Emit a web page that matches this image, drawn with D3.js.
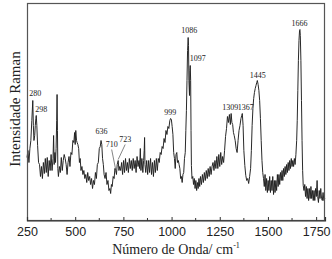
<!DOCTYPE html>
<html>
<head>
<meta charset="utf-8">
<script src="https://cdn.jsdelivr.net/npm/d3@7"></script>
<style>
  body { margin: 0; background: #fff; }
</style>
</head>
<body>
<div id="chart"></div>
<script>
// raman spectrum, values (arbitrary intensity units)
const wavenumbers = [250,255,260,265,270,275,280,283,286,290,293,296,298,301,305,310,315,320,325,330,
  335,340,345,350,355,360,365,370,375,380,385,388,391,395,398,401,404,406,408,410,413,418,423,
  428,433,438,443,448,453,458,463,468,473,478,483,488,493,497,500,503,507,510,514,518,522,526,530,535,540,545,550,
  555,560,565,570,575,580,585,590,595,600,605,610,615,620,625,630,634,638,642,646,650,
  655,660,665,670,675,680,684,688,692,697,702,706,710,714,718,723,727,731,
  736,741,746,751,756,761,766,771,776,781,786,791,796,801,806,811,816,821,826,831,834,838,841,846,851,855,858,860,862,866,
  871,876,881,886,891,896,901,906,911,916,921,926,931,936,941,
  946,951,956,961,966,971,976,981,986,991,995,999,1003,1007,1011,1015,1019,1023,1027,1031,1035,1039,1043,1047,1051,1055,1059,
  1063,1067,1071,1074,1077,1080,1083,1086,1088,1090,1093,1095,1097,1099,1101,1103,1106,
  1110,1114,1118,1122,1126,1130,1134,1138,1142,1146,1150,1155,1160,1165,1170,1175,1180,1185,1190,1195,1200,1205,1210,
  1215,1220,1225,1230,1235,1240,1245,1250,1255,1260,1265,1270,1275,1280,1285,1290,1295,1300,1305,1309,1313,1317,1321,
  1325,1330,1335,1340,1345,1350,1355,1360,1364,1367,1371,1375,1380,1385,1390,1395,1400,1405,1410,1414,1418,1422,1426,
  1430,1434,1438,1442,1445,1449,1453,1457,1461,1465,1469,1473,1477,
  1481,1485,1489,1493,1497,1501,1505,1509,1513,1517,1521,1525,1529,1533,1537,1541,1545,1549,1553,1557,1561,1565,1569,
  1573,1577,1581,1585,1589,1593,1597,1601,1605,1609,1613,1617,1621,1625,1629,1633,1637,1641,1645,1649,
  1652,1655,1658,1661,1664,1666,1668,1671,1674,1677,1680,1683,1687,
  1691,1695,1699,1703,1707,1711,1715,1719,1723,1727,1731,1735,1739,1743,1747,1751,1755,1758,1762,1766,1770,1774,1778,
  1782,1786,1790,1795];

const intensity = [63,70,58,72,80,100,120,95,80,85,95,102,105,95,75,58,56,44,54,42,
  58,47,62,48,63,44,60,50,66,50,62,85,56,68,58,72,100,126,90,52,44,54,48,
  63,50,60,66,62,56,46,58,64,54,68,66,80,78,88,76,90,80,78,76,72,58,62,50,54,46,50,42,
  46,38,48,40,44,36,42,32,40,36,48,42,56,58,72,74,80,76,62,56,46,
  42,48,36,40,30,32,27,36,34,44,42,52,50,46,56,60,50,54,
  50,58,46,60,48,62,50,58,48,62,52,60,50,62,52,60,48,64,54,60,52,72,50,62,48,60,70,83,56,48,
  60,46,60,48,62,46,58,44,60,48,62,50,62,58,68,
  66,74,72,82,78,90,86,94,92,100,102,101,94,86,68,62,52,66,68,58,60,56,52,42,44,38,46,
  48,62,68,90,110,140,170,183,175,140,125,150,155,140,90,55,42,
  44,36,42,32,40,30,38,32,42,34,44,36,46,38,48,40,50,42,52,44,54,46,54,
  58,50,60,52,64,52,66,54,68,56,64,58,70,84,92,104,98,106,96,107,98,96,88,
  85,80,72,68,80,90,95,102,105,107,95,70,55,45,40,42,37,44,52,70,95,112,122,
  128,132,135,138,140,136,130,120,102,80,60,48,42,
  34,46,30,42,28,40,30,44,28,40,30,44,26,40,28,40,30,46,34,46,36,48,40,
  50,40,52,44,54,46,56,48,58,50,60,52,62,54,60,54,62,56,66,80,
  100,130,160,180,190,191,185,160,120,80,50,35,30,
  36,24,34,22,32,20,32,22,34,22,30,20,30,20,32,24,40,24,18,30,22,32,22,
  20,28,20,22];

const xTicks = [250, 500, 750, 1000, 1250, 1500, 1750];
const xMinorTicks = [375, 625, 875, 1125, 1375, 1625];
const peakLabels = ["280", "298", "636", "710", "723", "999", "1086", "1097", "1309", "1367", "1445", "1666"];

var width = 332, height = 259;
var margin = {left: 27, right: 7, top: 3.5, bottom: 38.5};

var svg = d3.select("#chart")
    .append("svg")
    .attr("width", width)
    .attr("height", height);

var x = d3.scaleLinear().domain([250, 1796]).range([margin.left, width - margin.right]);
var y = d3.scaleLinear().domain([0, 217]).range([height - margin.bottom, margin.top]);

var points = wavenumbers.map((w, i) => ({w: w, v: intensity[i]}));

// spectrum
var line = d3.line()
    .x(d => x(d.w))
    .y(d => y(d.v));

svg.append("path")
    .datum(points)
    .attr("fill", "none")
    .attr("stroke", "#1e1e1e")
    .attr("stroke-width", 0.95)
    .attr("stroke-linejoin", "round")
    .attr("d", line);

// frame
svg.append("rect")
    .attr("x", margin.left + 0.5)
    .attr("y", margin.top)
    .attr("width", width - margin.left - margin.right - 1)
    .attr("height", height - margin.top - margin.bottom)
    .attr("fill", "none")
    .attr("stroke", "#555")
    .attr("stroke-width", 1.2);

// x axis, ticks pointing in
var xAxis = svg.append("g")
    .attr("transform", `translate(0,${height - margin.bottom})`)
    .call(d3.axisBottom(x).tickValues(xTicks).tickSize(-3.5).tickPadding(7).tickFormat(d3.format("d")));
xAxis.select(".domain").attr("stroke", "#333").attr("stroke-width", 1.2);
xAxis.selectAll(".tick line").attr("stroke", "#333");
xAxis.selectAll("text")
    .attr("fill", "#222")
    .style("font-family", "'Liberation Sans', Arial, sans-serif")
    .style("font-size", "12.5px");

svg.append("g")
    .attr("transform", `translate(0,${height - margin.bottom})`)
    .selectAll("line")
    .data(xMinorTicks)
    .join("line")
    .attr("x1", d => x(d))
    .attr("x2", d => x(d))
    .attr("y1", 0)
    .attr("y2", -2.5)
    .attr("stroke", "#333");

// axis titles
var xTitle = svg.append("text")
    .attr("x", 176)
    .attr("y", 254)
    .attr("text-anchor", "middle")
    .attr("fill", "#222")
    .style("font-family", "'Liberation Serif', 'Times New Roman', serif")
    .style("font-size", "14px")
    .text("Número de Onda/ cm");
xTitle.append("tspan")
    .attr("dy", -6)
    .style("font-size", "8px")
    .text("-1");

svg.append("text")
    .attr("transform", "translate(20,109) rotate(-90)")
    .attr("text-anchor", "middle")
    .attr("fill", "#222")
    .style("font-family", "'Liberation Serif', 'Times New Roman', serif")
    .style("font-size", "15px")
    .text("Intensidade Raman");

// peak labels
var labelStyle = {
    "280":  {dx: -3.5, dy: -5, anchor: "start"},
    "298":  {dx: -1,   dy: -4, anchor: "start"},
    "636":  {dx: 0,    dy: -7, anchor: "middle"},
    "710":  {dx: -4,   dy: -24, anchor: "middle", lead: true},
    "723":  {dx: 7,    dy: -19, anchor: "middle", lead: true},
    "999":  {dx: -1,   dy: -5, anchor: "middle"},
    "1086": {dx: 1,    dy: -5, anchor: "middle"},
    "1097": {dx: -0.5, dy: -5, anchor: "start"},
    "1309": {dx: -1,   dy: -4, anchor: "middle"},
    "1367": {dx: 3.5,  dy: -4, anchor: "middle"},
    "1445": {dx: 0.5,  dy: -3, anchor: "middle"},
    "1666": {dx: -0.5, dy: -4, anchor: "middle"}
};

var labelData = peakLabels.map(t => {
    var w = +t;
    var p = points.reduce((a, b) => Math.abs(b.w - w) < Math.abs(a.w - w) ? b : a);
    return {text: t, w: w, v: p.v, s: labelStyle[t]};
});

svg.selectAll(".lead")
    .data(labelData.filter(d => d.s.lead))
    .join("line")
    .attr("class", "lead")
    .attr("x1", d => x(d.w) + d.s.dx)
    .attr("y1", d => y(d.v) + d.s.dy + 3)
    .attr("x2", d => x(d.w))
    .attr("y2", d => y(d.v) - 1)
    .attr("stroke", "#333")
    .attr("stroke-width", 0.6);

svg.selectAll(".peak-label")
    .data(labelData)
    .join("text")
    .attr("class", "peak-label")
    .attr("x", d => x(d.w) + d.s.dx)
    .attr("y", d => y(d.v) + d.s.dy)
    .attr("text-anchor", d => d.s.anchor)
    .attr("fill", "#222")
    .style("font-family", "'Liberation Serif', 'Times New Roman', serif")
    .style("font-size", "8px")
    .text(d => d.text);
</script>
</body>
</html>
